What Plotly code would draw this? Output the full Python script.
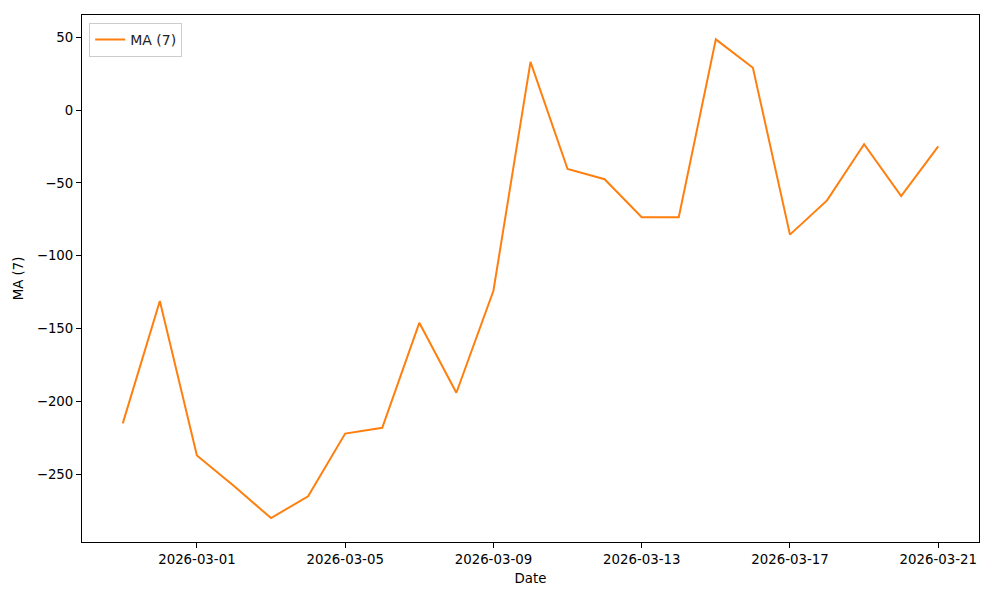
import plotly.graph_objects as go
import pandas as pd

dates = pd.date_range("2026-02-27", "2026-03-21", freq="D").strftime("%Y-%m-%d").tolist()
ma7 = [-215, -131, -237, -258, -280, -265, -222, -218, -146, -194, -124,
       33, -40.5, -47.5, -73.5, -73.5, 48.5, 29, -85.5, -62, -23.5, -59, -25]

tick_dates = ["2026-03-01", "2026-03-05", "2026-03-09", "2026-03-13", "2026-03-17", "2026-03-21"]

fig = go.Figure()
fig.add_trace(go.Scatter(x=dates, y=ma7, mode="lines", name="MA (7)",
                         line=dict(color="#ff7f0e", width=2)))

font = dict(family="DejaVu Sans", size=13.33, color="black")
fig.update_layout(
    width=1000, height=600,
    margin=dict(l=82, r=21, t=15, b=58, autoexpand=False),
    paper_bgcolor="white", plot_bgcolor="white",
    font=font,
    showlegend=True,
    legend=dict(x=0.008, y=0.985, xanchor="left", yanchor="top",
                bgcolor="rgba(255,255,255,0.8)", bordercolor="#cccccc", borderwidth=1,
                font=dict(family="DejaVu Sans", size=14, color="#222222")),
    xaxis=dict(
        title=dict(text="Date", font=font, standoff=7),
        type="date", automargin=False,
        range=["2026-02-25 21:36", "2026-03-22 02:24"],
        tickvals=tick_dates, ticktext=tick_dates,
        showgrid=False, zeroline=False,
        showline=True, linecolor="black", linewidth=1, mirror=True,
        ticks="outside", ticklen=5, tickcolor="black", tickwidth=1,
    ),
    yaxis=dict(
        title=dict(text="MA (7)", font=font, standoff=10),
        automargin=False,
        range=[-296.4, 65.2],
        tickvals=[50, 0, -50, -100, -150, -200, -250],
        showgrid=False, zeroline=False,
        showline=True, linecolor="black", linewidth=1, mirror=True,
        ticks="outside", ticklen=5, tickcolor="black", tickwidth=1,
    ),
)

fig.write_html("out.html", config={"displayModeBar": False},
               post_script="document.body.style.margin='0';document.body.style.overflow='hidden';")
